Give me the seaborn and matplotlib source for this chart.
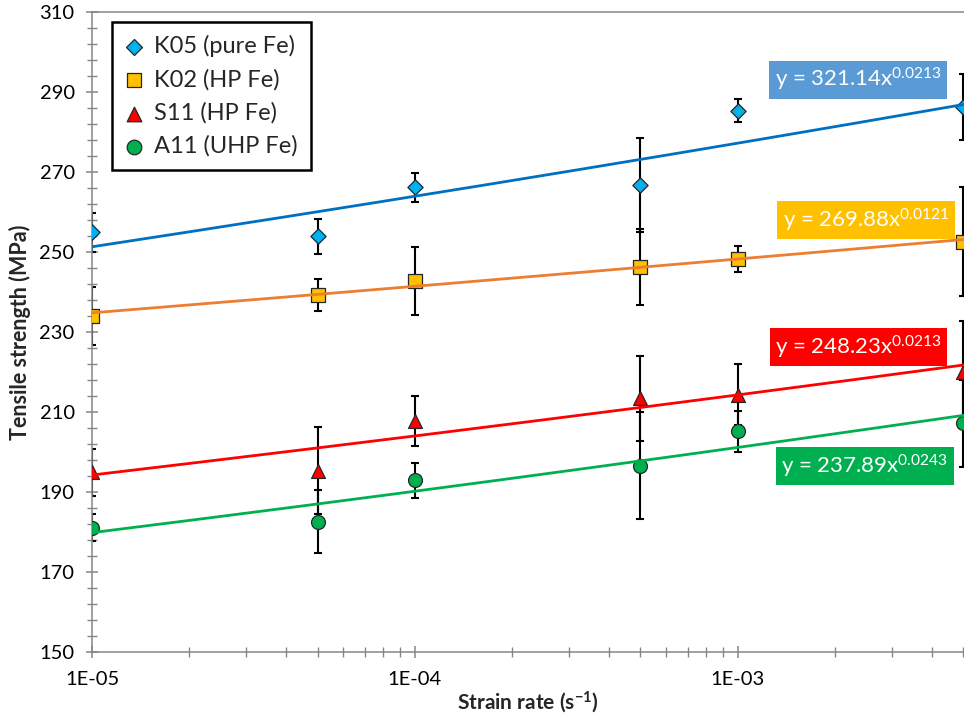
import numpy as np
import matplotlib
matplotlib.use("Agg")
import matplotlib.pyplot as plt
import seaborn as sns
from matplotlib.ticker import FixedLocator, LogLocator, NullFormatter, FuncFormatter

# Tensile strength vs strain rate for four iron grades
strain_rate = [1e-5, 5e-5, 1e-4, 5e-4, 1e-3, 5e-3]
samples = ["K05 (pure Fe)", "K02 (HP Fe)", "S11 (HP Fe)", "A11 (UHP Fe)"]

k05_mean = [254.9, 253.9, 266.2, 266.8, 285.3, 286.3]
k05_err = [4.8, 4.4, 3.6, 11.7, 2.9, 8.2]
k02_mean = [234.0, 239.3, 242.8, 246.3, 248.3, 252.6]
k02_err = [7.2, 4.0, 8.5, 9.5, 3.2, 13.7]
s11_mean = [194.9, 195.3, 207.8, 213.4, 214.3, 220.1]
s11_err = [5.9, 10.9, 6.3, 10.7, 7.6, 12.7]
a11_mean = [181.1, 182.6, 192.9, 196.6, 205.2, 207.2]
a11_err = [3.3, 7.8, 4.4, 13.4, 5.1, 10.9]

# Power-law fits y = a * x^b
fit_coef = [321.14, 269.88, 248.23, 237.89]
fit_exp = [0.0213, 0.0121, 0.0213, 0.0243]
fit_coef_text = ["321.14", "269.88", "248.23", "237.89"]
fit_exp_text = ["0.0213", "0.0121", "0.0213", "0.0243"]

x_ticks = [1e-5, 1e-4, 1e-3]
x_tick_labels = ["1E-05", "1E-04", "1E-03"]
y_ticks = [150, 170, 190, 210, 230, 250, 270, 290, 310]

means = [k05_mean, k02_mean, s11_mean, a11_mean]
errs = [k05_err, k02_err, s11_err, a11_err]
markers = ["D", "s", "^", "o"]
marker_sizes = [60, 95, 100, 100]
fill_colors = ["#00B0F0", "#FFC000", "#FF0000", "#00B050"]
line_colors = ["#0070C0", "#ED7D31", "#FF0000", "#00B050"]
box_colors = ["#5B9BD5", "#FFC000", "#FF0000", "#00B050"]
box_pos = [(2.36e-3, 293.1), (2.50e-3, 257.9), (2.37e-3, 226.25), (2.48e-3, 196.4)]

sns.set_style("ticks")
plt.rcParams["font.family"] = ["Lato", "DejaVu Sans"]
plt.rcParams["mathtext.fontset"] = "custom"
plt.rcParams["mathtext.rm"] = "Lato"
plt.rcParams["mathtext.bf"] = "Lato:bold"
plt.rcParams["mathtext.it"] = "Lato:italic"

fig = plt.figure(figsize=(9.64, 7.19), dpi=100)
ax = fig.add_axes([92 / 964, 67 / 719, 872 / 964, 640 / 719])

x_max = 5.03e-3
xs = np.logspace(-5, np.log10(x_max), 200)

for i, name in enumerate(samples):
    ax.errorbar(strain_rate, means[i], yerr=errs[i], fmt="none", ecolor="black",
                elinewidth=1.5, capsize=3, capthick=1.5, zorder=2)
    sns.scatterplot(x=strain_rate, y=means[i], marker=markers[i], s=marker_sizes[i],
                    color=fill_colors[i], edgecolor="#262626", linewidth=0.9,
                    label=name, ax=ax, zorder=3)
    sns.lineplot(x=xs, y=fit_coef[i] * xs ** fit_exp[i], color=line_colors[i],
                 linewidth=2, ax=ax, zorder=4, legend=False)
    ax.text(box_pos[i][0], box_pos[i][1],
            "y = " + fit_coef_text[i] + r"x$^{\mathregular{" + fit_exp_text[i] + "}}$",
            color="white", fontsize=16, ha="center", va="center", zorder=6,
            bbox=dict(boxstyle="square,pad=0.24", facecolor=box_colors[i], edgecolor="none"))

ax.set_xscale("log")
ax.set_xlim(1e-5, x_max)
ax.set_ylim(150, 310)

ax.xaxis.set_major_locator(FixedLocator(x_ticks))
ax.xaxis.set_major_formatter(FuncFormatter(lambda v, p: x_tick_labels[x_ticks.index(v)] if v in x_ticks else ""))
ax.xaxis.set_minor_locator(LogLocator(base=10, subs=np.arange(2, 10)))
ax.xaxis.set_minor_formatter(NullFormatter())
ax.yaxis.set_major_locator(FixedLocator(y_ticks))
ax.yaxis.set_minor_locator(FixedLocator(np.arange(150, 311, 4)))

axis_grey = "#868686"
for side in ["left", "bottom", "top"]:
    ax.spines[side].set_color(axis_grey)
    ax.spines[side].set_linewidth(1.1)
ax.spines["right"].set_visible(False)
ax.tick_params(which="major", direction="inout", length=9, width=1.1, color=axis_grey,
               labelsize=14.5, labelcolor="black")
ax.tick_params(which="minor", direction="inout", length=7, width=1.0, color=axis_grey)
ax.tick_params(axis="x", which="both", top=False)
ax.tick_params(axis="y", which="major", pad=8)
ax.tick_params(axis="x", which="major", pad=9)

ax.set_xlabel(r"Strain rate (s$^{\mathbf{-1}}$)", fontsize=15, fontweight="bold", labelpad=1)
ax.set_ylabel("Tensile strength (MPa)", fontsize=15.5, fontweight="bold", labelpad=6)

leg = ax.legend(loc="upper left", bbox_to_anchor=(20 / 872, 630 / 640), borderaxespad=0,
                frameon=True, fancybox=False, fontsize=17, handlelength=0.8,
                handletextpad=0.45, labelspacing=0.5, borderpad=0.55, markerscale=1.05)
leg.get_frame().set_edgecolor("black")
leg.get_frame().set_linewidth(1.8)
leg.get_frame().set_facecolor("white")
leg.get_frame().set_alpha(1)
leg.set_zorder(7)

fig.savefig("out.png", dpi=100)
